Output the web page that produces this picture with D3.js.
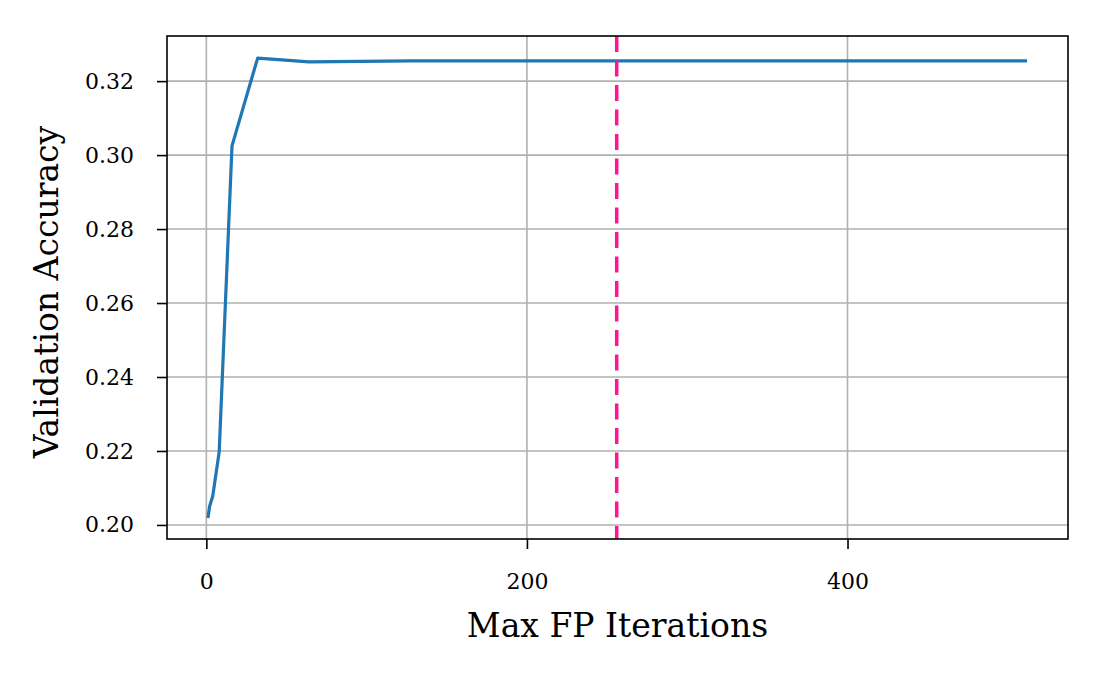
<!DOCTYPE html>
<html>
<head>
<meta charset="utf-8">
<script src="https://cdn.jsdelivr.net/npm/d3@7"></script>
<style>
  body { margin: 0; background: #fff; }
  svg { font-family: "DejaVu Serif", serif; }
</style>
</head>
<body>
<svg id="chart" width="1104" height="683"></svg>
<script>
// max fixed-point iterations vs validation accuracy
var iterations = [1, 2, 4, 8, 16, 32, 64, 128, 256, 512];
var accuracy = [0.2019, 0.2050, 0.2078, 0.2197, 0.3025, 0.3262, 0.3252, 0.3255, 0.3255, 0.3255];
var chosenIter = 256;
var xTicks = [0, 200, 400];
var yTicks = [0.20, 0.22, 0.24, 0.26, 0.28, 0.30, 0.32];

var margin = {top: 36, right: 36, bottom: 144, left: 167},
  width = 1104 - margin.left - margin.right,
  height = 683 - margin.top - margin.bottom;

var svg = d3.select("#chart")
  .append("g")
  .attr("transform", "translate(" + margin.left + "," + margin.top + ")");

var x = d3.scaleLinear().domain([-24.55, 537.55]).range([0, width]);
var y = d3.scaleLinear().domain([0.1962, 0.3322]).range([height, 0]);

// grid
svg.append("g").selectAll("line").data(xTicks).enter().append("line")
  .attr("x1", d => x(d)).attr("x2", d => x(d))
  .attr("y1", 0).attr("y2", height)
  .attr("stroke", "#b0b0b0").attr("stroke-width", 1.6);
svg.append("g").selectAll("line").data(yTicks).enter().append("line")
  .attr("y1", d => y(d)).attr("y2", d => y(d))
  .attr("x1", 0).attr("x2", width)
  .attr("stroke", "#b0b0b0").attr("stroke-width", 1.6);

// the line
var valueline = d3.line()
  .x((d, i) => x(iterations[i]))
  .y(d => y(d));
svg.append("path")
  .datum(accuracy)
  .attr("fill", "none")
  .attr("stroke", "#1f77b4")
  .attr("stroke-width", 3.2)
  .attr("stroke-linejoin", "round")
  .attr("d", valueline);

// chosen value marker
svg.append("line")
  .attr("x1", x(chosenIter)).attr("x2", x(chosenIter))
  .attr("y1", 0).attr("y2", height)
  .attr("stroke", "#ff1493")
  .attr("stroke-width", 3.5)
  .attr("stroke-dasharray", "16,8.5");

// axes
var xAxis = svg.append("g")
  .attr("transform", "translate(0," + height + ")")
  .call(d3.axisBottom(x).tickValues(xTicks).tickSize(10).tickPadding(24).tickFormat(d3.format("d")));
var yAxis = svg.append("g")
  .call(d3.axisLeft(y).tickValues(yTicks).tickSize(10).tickPadding(23).tickFormat(d3.format(".2f")));
[xAxis, yAxis].forEach(function(a) {
  a.select(".domain").remove();
  a.selectAll("line").attr("stroke", "#000").attr("stroke-width", 1.6);
  a.selectAll("text").attr("font-size", 22).attr("fill", "#000")
    .style("font-family", "DejaVu Serif");
});

// frame
svg.append("rect")
  .attr("width", width).attr("height", height)
  .attr("fill", "none").attr("stroke", "#000").attr("stroke-width", 1.6);

// labels
svg.append("text")
  .attr("x", width / 2).attr("y", height + 98)
  .attr("text-anchor", "middle")
  .attr("font-size", 33)
  .text("Max FP Iterations");
svg.append("text")
  .attr("transform", "translate(" + (-109) + "," + 256 + ") rotate(-90)")
  .attr("text-anchor", "middle")
  .attr("font-size", 33)
  .text("Validation Accuracy");
</script>
</body>
</html>
